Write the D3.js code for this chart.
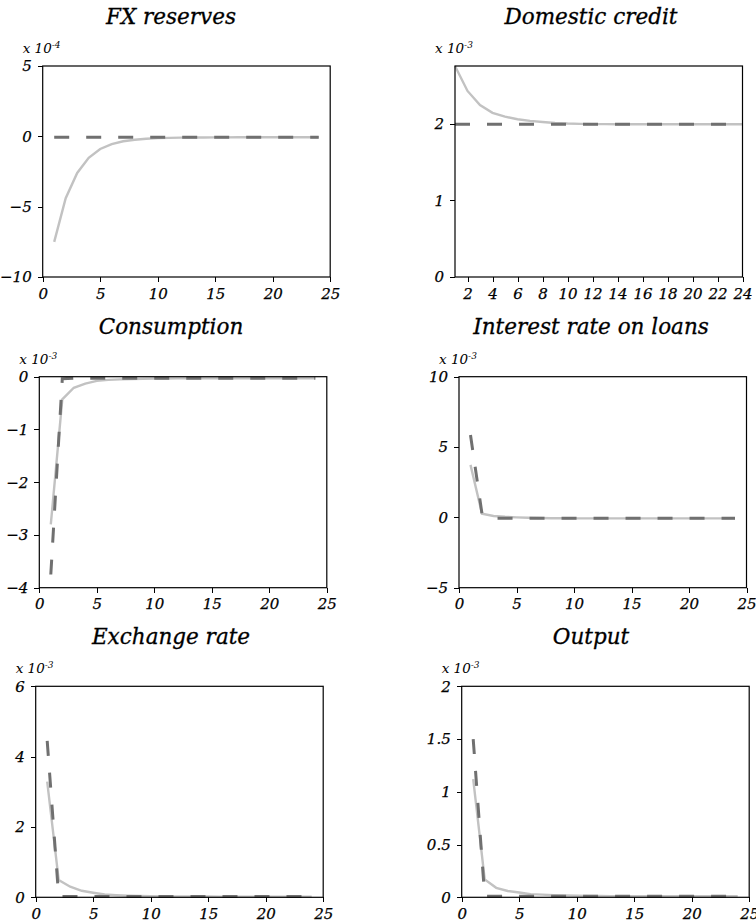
<!DOCTYPE html>
<meta charset="utf-8">
<script src="https://d3js.org/d3.v7.min.js"></script>
<style type="text/css">
body { margin: 0; background: #fff; }
svg text { font-family: "DejaVu Serif", serif; font-style: italic; fill: #000; }
.axis path, .axis line { stroke: #000; shape-rendering: crispEdges; }
</style>
<body></body>
<script>

// periods 1..24
var periods = [1,2,3,4,5,6,7,8,9,10,11,12,13,14,15,16,17,18,19,20,21,22,23,24];

// FX reserves, x 10^-4
var fxSolid  = [-7.5,-4.4,-2.6,-1.53,-0.9,-0.55,-0.35,-0.24,-0.17,-0.13,-0.11,-0.095,-0.085,-0.08,-0.075,-0.072,-0.07,-0.07,-0.07,-0.07,-0.07,-0.07,-0.07,-0.07];
var fxDashed = [-0.07,-0.07,-0.07,-0.07,-0.07,-0.07,-0.07,-0.07,-0.07,-0.07,-0.07,-0.07,-0.07,-0.07,-0.07,-0.07,-0.07,-0.07,-0.07,-0.07,-0.07,-0.07,-0.07,-0.07];

// Domestic credit, x 10^-3
var dcSolid  = [2.75,2.425,2.24,2.14,2.09,2.056,2.035,2.02,2.008,2.0,1.996,1.993,1.992,1.991,1.99,1.99,1.99,1.99,1.99,1.99,1.99,1.99,1.99,1.99];
var dcDashed = [1.99,1.99,1.99,1.99,1.99,1.99,1.99,1.99,1.99,1.99,1.99,1.99,1.99,1.99,1.99,1.99,1.99,1.99,1.99,1.99,1.99,1.99,1.99,1.99];

// Consumption, x 10^-3
var cSolid  = [-2.8,-0.43,-0.21,-0.13,-0.08,-0.06,-0.05,-0.045,-0.04,-0.035,-0.033,-0.032,-0.031,-0.03,-0.03,-0.03,-0.03,-0.03,-0.03,-0.03,-0.03,-0.03,-0.03,-0.03];
var cDashed = [-3.75,-0.04,-0.03,-0.03,-0.03,-0.03,-0.03,-0.03,-0.03,-0.03,-0.03,-0.03,-0.03,-0.03,-0.03,-0.03,-0.03,-0.03,-0.03,-0.03,-0.03,-0.03,-0.03,-0.03];

// Interest rate on loans, x 10^-3
var irSolid  = [3.73,0.26,0.1,0.04,0.0,-0.03,-0.05,-0.06,-0.065,-0.07,-0.07,-0.07,-0.07,-0.07,-0.07,-0.07,-0.07,-0.07,-0.07,-0.07,-0.07,-0.07,-0.07,-0.07];
var irDashed = [5.85,0.25,-0.07,-0.07,-0.07,-0.07,-0.07,-0.07,-0.07,-0.07,-0.07,-0.07,-0.07,-0.07,-0.07,-0.07,-0.07,-0.07,-0.07,-0.07,-0.07,-0.07,-0.07,-0.07];

// Exchange rate, x 10^-3
var erSolid  = [3.29,0.49,0.3,0.185,0.13,0.08,0.06,0.045,0.035,0.03,0.027,0.025,0.023,0.022,0.021,0.02,0.02,0.02,0.02,0.02,0.02,0.02,0.02,0.02];
var erDashed = [4.45,0.02,0.02,0.02,0.02,0.02,0.02,0.02,0.02,0.02,0.02,0.02,0.02,0.02,0.02,0.02,0.02,0.02,0.02,0.02,0.02,0.02,0.02,0.02];

// Output, x 10^-3
var ySolid  = [1.12,0.17,0.09,0.06,0.045,0.03,0.025,0.02,0.017,0.015,0.013,0.012,0.011,0.01,0.01,0.01,0.01,0.01,0.01,0.01,0.01,0.01,0.01,0.01];
var yDashed = [1.5,0.01,0.01,0.01,0.01,0.01,0.01,0.01,0.01,0.01,0.01,0.01,0.01,0.01,0.01,0.01,0.01,0.01,0.01,0.01,0.01,0.01,0.01,0.01];

// tick labels
var xTicks   = [0,5,10,15,20,25];
var xTicksDC = [2,4,6,8,10,12,14,16,18,20,22,24];
var fxTicks  = [-10,-5,0,5];
var dcTicks  = [0,1,2];
var cTicks   = [-4,-3,-2,-1,0];
var irTicks  = [-5,0,5,10];
var erTicks  = [0,2,4,6];
var yTicks   = [0,0.5,1,1.5,2];

var titles = ["FX reserves","Domestic credit","Consumption","Interest rate on loans","Exchange rate","Output"];
var exponents = ["-4","-3","-3","-3","-3","-3"];

var panels = [
  {title: titles[0], exp: exponents[0], solid: fxSolid, dashed: fxDashed, xDom: [0,25], xT: xTicks,   yDom: [-10,5],  yT: fxTicks, left: 42.7,  top: 66},
  {title: titles[1], exp: exponents[1], solid: dcSolid, dashed: dcDashed, xDom: [1,24], xT: xTicksDC, yDom: [0,2.75], yT: dcTicks, left: 455,   top: 66},
  {title: titles[2], exp: exponents[2], solid: cSolid,  dashed: cDashed,  xDom: [0,25], xT: xTicks,   yDom: [-4,0],   yT: cTicks,  left: 39.3,  top: 376.7},
  {title: titles[3], exp: exponents[3], solid: irSolid, dashed: irDashed, xDom: [0,25], xT: xTicks,   yDom: [-5,10],  yT: irTicks, left: 459,   top: 376.7},
  {title: titles[4], exp: exponents[4], solid: erSolid, dashed: erDashed, xDom: [0,25], xT: xTicks,   yDom: [0,6],    yT: erTicks, left: 35.7,  top: 686.3},
  {title: titles[5], exp: exponents[5], solid: ySolid,  dashed: yDashed,  xDom: [0,25], xT: xTicks,   yDom: [0,2],    yT: yTicks,  left: 461.7, top: 686.3}
];
var titleCenters = [171, 591];

var width = 287.5, height = 211;

var svg = d3.select("body").append("svg")
  .attr("width", 756)
  .attr("height", 922);

var fmt = d => String(d).replace("-", "\u2212");

panels.forEach(function(p, i) {
  var g = svg.append("g")
    .attr("transform", `translate(${p.left},${p.top})`);

  var xScale = d3.scaleLinear().domain(p.xDom).range([0, width]);
  var yScale = d3.scaleLinear().domain(p.yDom).range([height, 0]);

  var line = d3.line()
    .x((d, j) => xScale(periods[j]))
    .y(d => yScale(d));

  g.append("path")
    .datum(p.solid)
    .attr("d", line)
    .attr("fill", "none")
    .attr("stroke", "#c2c2c2")
    .attr("stroke-width", 2.4);

  g.append("path")
    .datum(p.dashed)
    .attr("d", line)
    .attr("fill", "none")
    .attr("stroke", "#707070")
    .attr("stroke-width", 3)
    .attr("stroke-dasharray", "15,17");

  // box
  g.append("rect")
    .attr("x", 0).attr("y", 0)
    .attr("width", width).attr("height", height)
    .attr("fill", "none")
    .attr("stroke", "#000")
    .attr("stroke-width", 1.2);

  g.append("g")
    .attr("class", "x axis")
    .attr("transform", `translate(0,${height})`)
    .call(d3.axisBottom(xScale).tickValues(p.xT).tickFormat(fmt).tickSize(5).tickSizeOuter(0).tickPadding(6));

  g.append("g")
    .attr("class", "y axis")
    .call(d3.axisLeft(yScale).tickValues(p.yT).tickFormat(fmt).tickSize(5).tickSizeOuter(0).tickPadding(6));

  g.selectAll(".axis text")
    .style("font-size", "15px")
    .style("font-family", "DejaVu Serif")
    .style("font-style", "italic")
    .style("stroke", "#000")
    .style("stroke-width", 0.25);
  g.selectAll(".axis .domain").remove();

  // exponent label
  var ex = g.append("text")
    .attr("x", -20)
    .attr("y", -13)
    .style("font-size", "13.5px");
  ex.append("tspan").text("x 10");
  ex.append("tspan").attr("dy", -5).style("font-size", "9px").text(p.exp);

  // title
  svg.append("text")
    .attr("x", titleCenters[i % 2])
    .attr("y", p.top - 42.5)
    .attr("text-anchor", "middle")
    .style("font-size", "21.5px")
    .style("stroke", "#000")
    .style("stroke-width", 0.3)
    .text(p.title);
});

</script>
